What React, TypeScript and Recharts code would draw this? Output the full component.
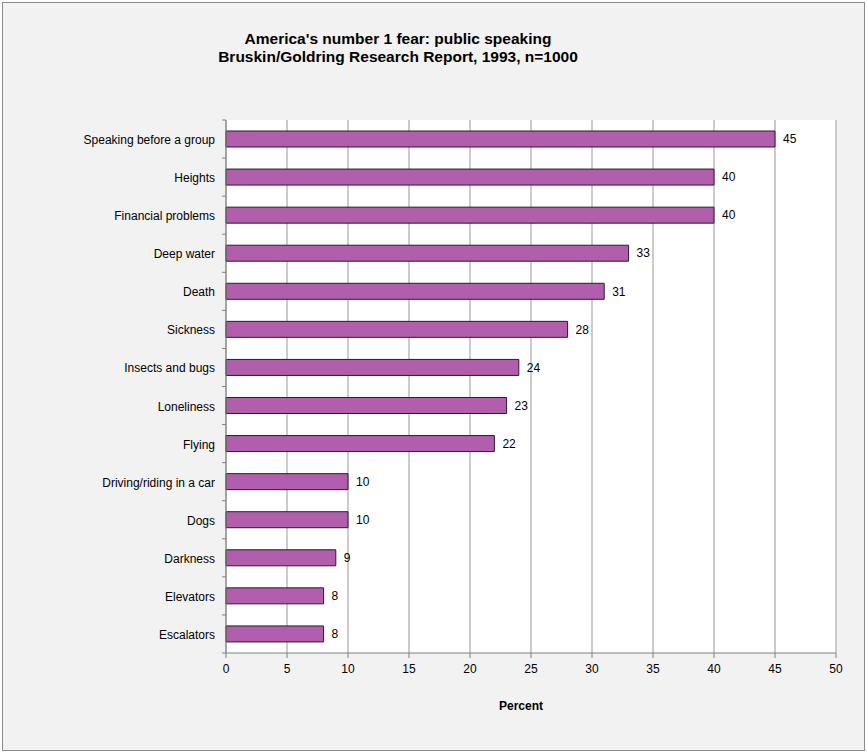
import { BarChart, Bar, XAxis, YAxis, CartesianGrid, LabelList } from 'recharts';

const categories = [
  'Speaking before a group',
  'Heights',
  'Financial problems',
  'Deep water',
  'Death',
  'Sickness',
  'Insects and bugs',
  'Loneliness',
  'Flying',
  'Driving/riding in a car',
  'Dogs',
  'Darkness',
  'Elevators',
  'Escalators',
];
const percents = [45, 40, 40, 33, 31, 28, 24, 23, 22, 10, 10, 9, 8, 8];
const xTicks = [0, 5, 10, 15, 20, 25, 30, 35, 40, 45, 50];

const data = categories.map((name, i) => ({ name, value: percents[i] }));

const FONT = '"Liberation Sans", Arial, Helvetica, sans-serif';
const AXIS = '#808080';

function CategoryTick(props: any) {
  const { x, y, payload, index } = props;
  const half = payload.offset || 0;
  return (
    <g>
      <text x={x} y={y} dy={5} textAnchor="end" fontSize={12} fontFamily={FONT} fill="#000">
        {payload.value}
      </text>
      <line x1={x + 7} x2={x + 11} y1={y - half} y2={y - half} stroke={AXIS} />
      {index === categories.length - 1 && (
        <line x1={x + 7} x2={x + 11} y1={y + half} y2={y + half} stroke={AXIS} />
      )}
    </g>
  );
}

export default function App() {
  return (
    <div style={{ position: 'absolute', left: 0, top: 0, width: 867, height: 753, background: '#fff' }}>
      <div
        style={{
          position: 'absolute',
          left: 2,
          top: 2,
          width: 863,
          height: 749,
          boxSizing: 'border-box',
          border: '1px solid #8c8c8c',
          background: '#f2f2f2',
        }}
      />
      <div
        style={{
          position: 'absolute',
          left: 0,
          top: 30,
          width: 796,
          textAlign: 'center',
          fontFamily: FONT,
          fontWeight: 'bold',
          fontSize: 15.5,
          lineHeight: '18px',
          color: '#000',
        }}
      >
        <div>America's number 1 fear: public speaking</div>
        <div>Bruskin/Goldring Research Report, 1993, n=1000</div>
      </div>
      <div style={{ position: 'absolute', left: 0, top: 0 }}>
        <BarChart
          width={867}
          height={753}
          data={data}
          layout="vertical"
          margin={{ top: 120, right: 31, left: 10, bottom: 70 }}
          barSize={16}
        >
          <CartesianGrid horizontal={false} stroke="#999" fill="#fff" />
          <XAxis
            type="number"
            domain={[0, 50]}
            ticks={xTicks}
            interval={0}
            height={30}
            stroke={AXIS}
            tickSize={5}
            tickMargin={6}
            tick={{ fill: '#000', fontSize: 12, fontFamily: FONT }}
            label={{
              value: 'Percent',
              position: 'bottom',
              offset: 18,
              dx: -10,
              fill: '#000',
              fontSize: 12,
              fontWeight: 'bold',
              fontFamily: FONT,
            }}
          />
          <YAxis
            type="category"
            dataKey="name"
            width={216}
            stroke={AXIS}
            tickSize={4}
            tickMargin={7}
            tickLine={{ stroke: 'none' }}
            interval={0}
            tick={<CategoryTick />}
          />
          <Bar dataKey="value" fill="#b15fad" stroke="#2b1a2a" strokeWidth={1} isAnimationActive={false}>
            <LabelList dataKey="value" position="right" offset={8} fill="#000" fontSize={12} fontFamily={FONT} />
          </Bar>
        </BarChart>
      </div>
    </div>
  );
}
